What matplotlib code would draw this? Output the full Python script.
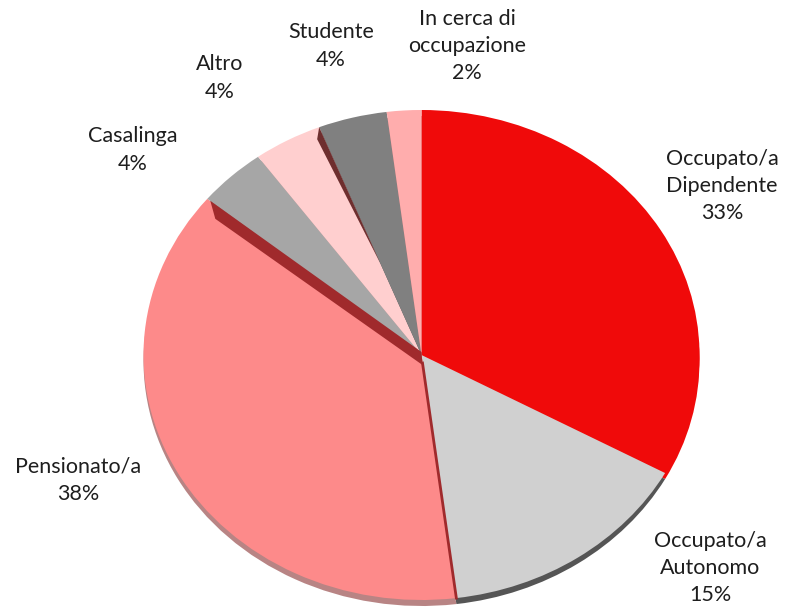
import numpy as np
import matplotlib.pyplot as plt
from matplotlib.patches import Polygon

plt.rcParams['font.family'] = ['Lato', 'DejaVu Sans']

categories = ["Occupato/a\nDipendente", "Occupato/a\nAutonomo", "Pensionato/a",
              "Casalinga", "Altro", "Studente", "In cerca di\noccupazione"]
values = [33, 15, 38, 4, 4, 4, 2]
colors = ['#F00A0A', '#D0D0D0', '#FD8A8A', '#A6A6A6', '#FFCFCF', '#808080', '#FFADAD']
rim_colors = ['#F00A0A', '#555555', '#B88484', '#666666', '#B09090', '#505050', '#B07070']

# label centres in pixel coordinates (x, y from top)
label_pos = [(722, 186), (710, 568), (78, 480), (133, 150), (220, 78), (331, 46), (467, 46)]

W, H = 799, 612
cx, cy = 421.5, 355      # pie centre (pixels)
rx, ry = 278, 245        # horizontal / vertical radius (pixels)
sy = ry / rx


def to_data(x, y):
    return x, (H - y) / sy


def edge_point(frac):
    # point on the rim at a cumulative fraction (clockwise from top), in pixels
    a = 2 * np.pi * frac
    return cx + rx * np.sin(a), cy - ry * np.cos(a)


fig = plt.figure(figsize=(W / 100, H / 100), dpi=100)
ax = fig.add_axes([0, 0, 1, 1])

# dark rim (thickness) drawn below the top face
rim, _ = ax.pie(values, colors=rim_colors, startangle=90, counterclock=False,
                radius=rx, center=to_data(cx, cy + 6), frame=True,
                wedgeprops=dict(linewidth=0))
for w in rim:
    w.set_zorder(1)

wedges, _ = ax.pie(values, colors=colors, startangle=90, counterclock=False,
                   radius=rx, center=to_data(cx, cy), frame=True,
                   wedgeprops=dict(linewidth=0))
for w in wedges:
    w.set_zorder(2)

cum = np.cumsum(values) / sum(values)

# side face along the top edge of Pensionato/a
px, py = edge_point(cum[2])
pts = [(cx, cy - 3), (px + 3, py + 2), (px + 8, py + 20), (cx + 1, cy + 10)]
ax.add_patch(Polygon([to_data(*p) for p in pts], closed=True,
                     facecolor='#A02A2C', edgecolor='none', zorder=3))
# thin side between Pensionato/a and Autonomo
bx, by = edge_point(cum[1])
ax.plot(*zip(to_data(cx + 1, cy + 8), to_data(bx, by)), color='#A02A2C', lw=2, zorder=3)

# side face at the left edge of Studente
qx, qy = edge_point(cum[4])
ex, ey = qx + 0.6 * (cx - qx), qy + 0.6 * (cy - qy)
pts = [(qx, qy), (qx - 2, qy + 12), (ex, ey)]
ax.add_patch(Polygon([to_data(*p) for p in pts], closed=True,
                     facecolor='#6E2E2E', edgecolor='none', zorder=3))

for name, v, (lx, ly) in zip(categories, values, label_pos):
    ax.text(*to_data(lx, ly), f"{name}\n{v}%", ha='center', va='center',
            fontsize=15.5, linespacing=1.45, color='#1E1E1E', zorder=4)

ax.set_xlim(0, W)
ax.set_ylim(0, H / sy)
ax.set_aspect('auto')
ax.axis('off')

fig.savefig('out.png', dpi=100)
